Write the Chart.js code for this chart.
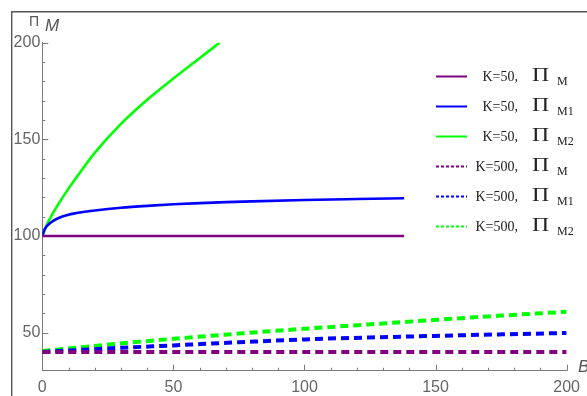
<!DOCTYPE html>
<html>
<head>
<meta charset="utf-8">
<script src="https://cdn.jsdelivr.net/npm/chart.js@4"></script>
<style>
  html, body { margin: 0; padding: 0; background: #fff; }
  #wrap { width: 587px; height: 396px; position: relative; }
</style>
</head>
<body>
<div id="wrap"><canvas id="c"></canvas></div>
<script>
// K = 50 : profits against B
const bM_K50   = [0, 138];
const piM_K50  = [100, 100];
const bM1_K50  = [0, 1, 3, 6, 10, 15, 20, 30, 40, 50, 60, 70, 80, 100, 120, 138];
const piM1_K50 = [100, 103.8, 106.7, 109.2, 111, 112.3, 113.2, 114.6, 115.6, 116.4, 117, 117.5, 117.9, 118.6, 119.1, 119.5];
const bM2_K50  = [0, 2, 5, 10, 15, 20, 30, 40, 50, 60, 67.6];
const piM2_K50 = [100, 106.5, 114, 124.5, 134, 143, 158, 170.5, 181.5, 192, 200];

// K = 500 : profits against B
const bK500     = [0, 25, 50, 75, 100, 125, 150, 175, 200];
const piM_K500  = [40, 40, 40, 40, 40, 40, 40, 40, 40];
const piM1_K500 = [40, 41.8, 43.4, 45, 46.5, 47.5, 48.3, 49.1, 49.8];
const piM2_K500 = [40.5, 43.8, 46.8, 49.5, 52, 54.3, 56.6, 58.8, 60.8];

// axis labels
const xTickLabels = [0, 50, 100, 150, 200];
const yTickLabels = [50, 100, 150, 200];

// legend entries
const legendPrefix = ['K=50,', 'K=50,', 'K=50,', 'K=500,', 'K=500,', 'K=500,'];
const legendSub    = ['M', 'M1', 'M2', 'M', 'M1', 'M2'];

const PURPLE = '#800080', BLUE = '#0000ff', GREEN = '#00ff00';
const AXIS = '#7a7a7a', TICKTXT = '#666666';

const pts = (xs, ys) => xs.map((x, i) => ({ x: x, y: ys[i] }));

function solid(data, color) {
  return { data, borderColor: color, borderWidth: 2.6, pointRadius: 0,
           cubicInterpolationMode: 'monotone', fill: false };
}
function dashed(data, color) {
  return { data, borderColor: color, borderWidth: 4, borderDash: [8, 5],
           borderCapStyle: 'butt', pointRadius: 0,
           cubicInterpolationMode: 'monotone', fill: false };
}

// white page with the outer frame line on the left and top
const framePlugin = {
  id: 'frame',
  beforeDraw(chart) {
    const ctx = chart.ctx;
    ctx.save();
    ctx.fillStyle = '#fff';
    ctx.fillRect(0, 0, chart.width, chart.height);
    ctx.strokeStyle = '#555';
    ctx.lineWidth = 1.4;
    ctx.beginPath();
    ctx.moveTo(11.7, chart.height);
    ctx.lineTo(11.7, 11.7);
    ctx.lineTo(chart.width, 11.7);
    ctx.stroke();
    ctx.restore();
  }
};

// inward tick marks (major every 50, minor every 10) and axis titles
const axisPlugin = {
  id: 'axisExtras',
  beforeDatasetsDraw(chart) {
    const ctx = chart.ctx;
    const xs = chart.scales.x, ys = chart.scales.y;
    const area = chart.chartArea;
    ctx.save();
    ctx.strokeStyle = AXIS;
    ctx.lineWidth = 1;
    ctx.beginPath();
    for (let v = 0; v <= 200; v += 10) {
      const px = Math.round(xs.getPixelForValue(v)) + 0.5;
      const len = v % 50 === 0 ? 6 : 3;
      ctx.moveTo(px, area.bottom);
      ctx.lineTo(px, area.bottom - len);
    }
    for (let v = 40; v <= 200; v += 10) {
      const py = Math.round(ys.getPixelForValue(v)) + 0.5;
      const len = v % 50 === 0 ? 6 : 3;
      ctx.moveTo(area.left, py);
      ctx.lineTo(area.left + len, py);
    }
    ctx.stroke();

    // y axis title: Π M
    ctx.fillStyle = '#555';
    ctx.textBaseline = 'alphabetic';
    ctx.textAlign = 'left';
    ctx.font = '14px "Liberation Sans"';
    ctx.fillText('Π', 29, 26);
    ctx.font = 'italic 17px "Liberation Sans"';
    ctx.fillText('M', 45, 31);
    // x axis title: B
    ctx.fillText('B', 578, 372);
    ctx.restore();
  }
};

// legend with subscripted Π
const legendPlugin = {
  id: 'piLegend',
  afterDraw(chart) {
    const ctx = chart.ctx;
    chart.data.datasets.forEach((ds, i) => {
      const y = 76.5 + i * 30;
      ctx.save();
      ctx.strokeStyle = ds.borderColor;
      ctx.lineWidth = 2;
      ctx.setLineDash(ds.borderDash ? [3, 2] : []);
      ctx.beginPath();
      ctx.moveTo(436, y);
      ctx.lineTo(467, y);
      ctx.stroke();
      ctx.setLineDash([]);
      ctx.fillStyle = '#222';
      ctx.textBaseline = 'alphabetic';
      ctx.textAlign = 'right';
      ctx.font = '14px "Liberation Serif"';
      ctx.fillText(legendPrefix[i], 518, y + 4.5);
      ctx.textAlign = 'left';
      // wide Π glyph
      ctx.save();
      ctx.translate(532, y + 4);
      ctx.scale(1.25, 1);
      ctx.font = '19px "Liberation Serif"';
      ctx.fillText('Π', 0, 0);
      ctx.restore();
      ctx.font = '12px "Liberation Serif"';
      ctx.fillText(legendSub[i], 557, y + 8.5);
      ctx.restore();
    });
  }
};

new Chart(document.getElementById('c'), {
  type: 'line',
  data: {
    datasets: [
      solid(pts(bM_K50, piM_K50), PURPLE),
      solid(pts(bM1_K50, piM1_K50), BLUE),
      solid(pts(bM2_K50, piM2_K50), GREEN),
      dashed(pts(bK500, piM_K500), PURPLE),
      dashed(pts(bK500, piM1_K500), BLUE),
      dashed(pts(bK500, piM2_K500), GREEN)
    ]
  },
  options: {
    responsive: true,
    maintainAspectRatio: false,
    animation: false,
    layout: { padding: { left: 12.3, right: 19.3, top: 42.7, bottom: 0 } },
    plugins: { legend: { display: false }, tooltip: { enabled: false } },
    scales: {
      x: {
        type: 'linear', min: 0, max: 200,
        grid: { display: true, drawOnChartArea: false, drawTicks: false },
        border: { display: true, color: AXIS, width: 1 },
        ticks: {
          stepSize: 50, autoSkip: false, maxRotation: 0, padding: 7,
          color: TICKTXT, font: { family: 'Liberation Sans', size: 16 },
          callback: v => xTickLabels.includes(v) ? String(v) : ''
        },
        afterFit: s => { s.height = 25.3; }
      },
      y: {
        type: 'linear', min: 30.3, max: 200,
        grid: { display: true, drawOnChartArea: false, drawTicks: false },
        border: { display: true, color: AXIS, width: 1 },
        ticks: {
          stepSize: 50, autoSkip: false, padding: 2,
          color: TICKTXT, font: { family: 'Liberation Sans', size: 16 },
          callback: v => yTickLabels.includes(v) ? String(v) : ''
        },
        afterFit: s => { s.width = 30; }
      }
    }
  },
  plugins: [framePlugin, axisPlugin, legendPlugin]
});
</script>
</body>
</html>
